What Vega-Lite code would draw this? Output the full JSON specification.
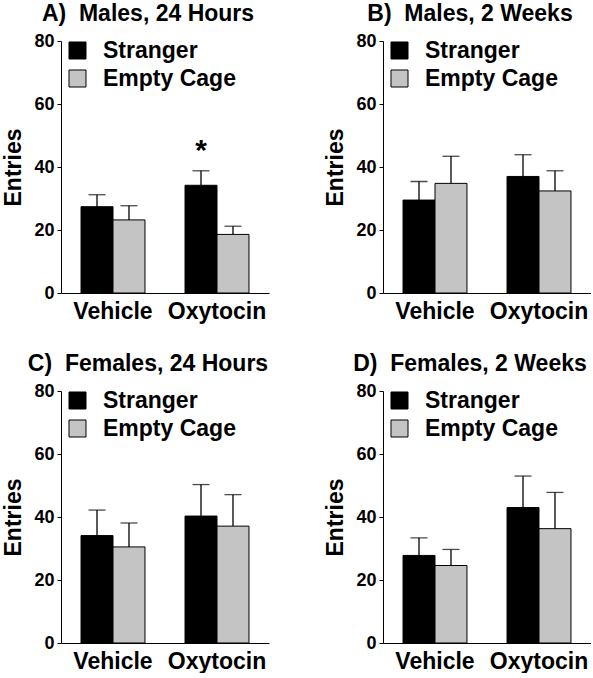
{
  "$schema": "https://vega.github.io/schema/vega-lite/v6.json",
  "padding": {"left": 2, "top": 3, "right": 0, "bottom": 0},
  "background": "white",
  "config": {
    "font": "Liberation Sans",
    "view": {"stroke": null},
    "concat": {"spacing": {"row": 30, "column": 55}},
    "axis": {"domainColor": "black", "tickColor": "black", "labelColor": "black", "titleColor": "black", "grid": false, "labelFontWeight": "bold", "titleFontWeight": "bold"}
  },
  "datasets": {
    "d": [
      {"panel": "A", "treatment": "Vehicle", "group": "Stranger", "mean": 27.4, "upper": 31.2},
      {"panel": "A", "treatment": "Vehicle", "group": "Empty Cage", "mean": 23.2, "upper": 27.7},
      {"panel": "A", "treatment": "Oxytocin", "group": "Stranger", "mean": 34.2, "upper": 38.8, "sig": "*", "sigpos": 45},
      {"panel": "A", "treatment": "Oxytocin", "group": "Empty Cage", "mean": 18.6, "upper": 21.2},
      {"panel": "B", "treatment": "Vehicle", "group": "Stranger", "mean": 29.5, "upper": 35.4},
      {"panel": "B", "treatment": "Vehicle", "group": "Empty Cage", "mean": 34.8, "upper": 43.4},
      {"panel": "B", "treatment": "Oxytocin", "group": "Stranger", "mean": 37.0, "upper": 43.9},
      {"panel": "B", "treatment": "Oxytocin", "group": "Empty Cage", "mean": 32.4, "upper": 38.8},
      {"panel": "C", "treatment": "Vehicle", "group": "Stranger", "mean": 34.1, "upper": 42.2},
      {"panel": "C", "treatment": "Vehicle", "group": "Empty Cage", "mean": 30.5, "upper": 38.1},
      {"panel": "C", "treatment": "Oxytocin", "group": "Stranger", "mean": 40.3, "upper": 50.3},
      {"panel": "C", "treatment": "Oxytocin", "group": "Empty Cage", "mean": 37.1, "upper": 47.1},
      {"panel": "D", "treatment": "Vehicle", "group": "Stranger", "mean": 27.8, "upper": 33.4},
      {"panel": "D", "treatment": "Vehicle", "group": "Empty Cage", "mean": 24.6, "upper": 29.7},
      {"panel": "D", "treatment": "Oxytocin", "group": "Stranger", "mean": 43.0, "upper": 53.0},
      {"panel": "D", "treatment": "Oxytocin", "group": "Empty Cage", "mean": 36.3, "upper": 47.8}
    ]
  },
  "columns": 2,
  "resolve": {"legend": {"color": "independent"}},
  "concat": [
    {
      "title": {"text": "A)\u00a0 Males, 24 Hours", "fontSize": 23, "fontWeight": "bold", "anchor": "middle", "frame": "group", "dx": -17, "offset": 6, "color": "black"},
      "width": 208, "height": 252,
      "data": {"name": "d"},
      "transform": [{"filter": "datum.panel == 'A'"}],
      "encoding": {
        "x": {"field": "treatment", "type": "nominal", "sort": ["Vehicle", "Oxytocin"], "scale": {"paddingInner": 0.385, "paddingOuter": 0.1925}, "axis": {"title": null, "ticks": false, "labelAngle": 0, "labelFontSize": 23, "labelPadding": 7}},
        "xOffset": {"field": "group", "type": "nominal", "sort": ["Stranger", "Empty Cage"]}
      },
      "layer": [
        {"mark": {"type": "rule", "color": "black", "strokeWidth": 1.3}, "encoding": {"y": {"field": "mean", "type": "quantitative"}, "y2": {"field": "upper"}}},
        {"mark": {"type": "tick", "color": "black", "size": 17, "thickness": 1.3}, "encoding": {"y": {"field": "upper", "type": "quantitative"}}},
        {"mark": {"type": "bar", "stroke": "black", "strokeWidth": 1}, "encoding": {
          "y": {"field": "mean", "type": "quantitative", "scale": {"domain": [0, 80]}, "axis": {"values": [0,10,20,30,40,50,60,70,80], "labelExpr": "datum.value % 20 == 0 ? datum.label : ''", "tickSize": 4, "labelFontSize": 18, "labelPadding": 3, "title": "Entries", "titleFontSize": 23, "titlePadding": 8}},
          "color": {"field": "group", "type": "nominal", "sort": ["Stranger", "Empty Cage"], "scale": {"domain": ["Stranger", "Empty Cage"], "range": ["#000000", "#c4c4c4"]}, "legend": {"title": null, "orient": "none", "legendX": 5, "legendY": -2, "symbolType": "square", "symbolSize": 290, "symbolStrokeColor": "black", "symbolStrokeWidth": 1, "labelFontSize": 23, "labelFontWeight": "bold", "labelColor": "black", "labelOffset": 14, "rowPadding": 4, "padding": 0}}
        }},
        {"transform": [{"filter": "datum.sig != null"}], "mark": {"type": "text", "fontSize": 30, "fontWeight": "bold", "baseline": "middle", "color": "black"}, "encoding": {"y": {"field": "sigpos", "type": "quantitative"}, "text": {"field": "sig"}}}
      ]
    },
    {
      "title": {"text": "B)\u00a0 Males, 2 Weeks", "fontSize": 23, "fontWeight": "bold", "anchor": "middle", "frame": "group", "dx": -17, "offset": 6, "color": "black"},
      "width": 208, "height": 252,
      "data": {"name": "d"},
      "transform": [{"filter": "datum.panel == 'B'"}],
      "encoding": {
        "x": {"field": "treatment", "type": "nominal", "sort": ["Vehicle", "Oxytocin"], "scale": {"paddingInner": 0.385, "paddingOuter": 0.1925}, "axis": {"title": null, "ticks": false, "labelAngle": 0, "labelFontSize": 23, "labelPadding": 7}},
        "xOffset": {"field": "group", "type": "nominal", "sort": ["Stranger", "Empty Cage"]}
      },
      "layer": [
        {"mark": {"type": "rule", "color": "black", "strokeWidth": 1.3}, "encoding": {"y": {"field": "mean", "type": "quantitative"}, "y2": {"field": "upper"}}},
        {"mark": {"type": "tick", "color": "black", "size": 17, "thickness": 1.3}, "encoding": {"y": {"field": "upper", "type": "quantitative"}}},
        {"mark": {"type": "bar", "stroke": "black", "strokeWidth": 1}, "encoding": {
          "y": {"field": "mean", "type": "quantitative", "scale": {"domain": [0, 80]}, "axis": {"values": [0,10,20,30,40,50,60,70,80], "labelExpr": "datum.value % 20 == 0 ? datum.label : ''", "tickSize": 4, "labelFontSize": 18, "labelPadding": 3, "title": "Entries", "titleFontSize": 23, "titlePadding": 8}},
          "color": {"field": "group", "type": "nominal", "sort": ["Stranger", "Empty Cage"], "scale": {"domain": ["Stranger", "Empty Cage"], "range": ["#000000", "#c4c4c4"]}, "legend": {"title": null, "orient": "none", "legendX": 5, "legendY": -2, "symbolType": "square", "symbolSize": 290, "symbolStrokeColor": "black", "symbolStrokeWidth": 1, "labelFontSize": 23, "labelFontWeight": "bold", "labelColor": "black", "labelOffset": 14, "rowPadding": 4, "padding": 0}}
        }}
      ]
    },
    {
      "title": {"text": "C)\u00a0 Females, 24 Hours", "fontSize": 23, "fontWeight": "bold", "anchor": "middle", "frame": "group", "dx": -17, "offset": 6, "color": "black"},
      "width": 208, "height": 252,
      "data": {"name": "d"},
      "transform": [{"filter": "datum.panel == 'C'"}],
      "encoding": {
        "x": {"field": "treatment", "type": "nominal", "sort": ["Vehicle", "Oxytocin"], "scale": {"paddingInner": 0.385, "paddingOuter": 0.1925}, "axis": {"title": null, "ticks": false, "labelAngle": 0, "labelFontSize": 23, "labelPadding": 7}},
        "xOffset": {"field": "group", "type": "nominal", "sort": ["Stranger", "Empty Cage"]}
      },
      "layer": [
        {"mark": {"type": "rule", "color": "black", "strokeWidth": 1.3}, "encoding": {"y": {"field": "mean", "type": "quantitative"}, "y2": {"field": "upper"}}},
        {"mark": {"type": "tick", "color": "black", "size": 17, "thickness": 1.3}, "encoding": {"y": {"field": "upper", "type": "quantitative"}}},
        {"mark": {"type": "bar", "stroke": "black", "strokeWidth": 1}, "encoding": {
          "y": {"field": "mean", "type": "quantitative", "scale": {"domain": [0, 80]}, "axis": {"values": [0,10,20,30,40,50,60,70,80], "labelExpr": "datum.value % 20 == 0 ? datum.label : ''", "tickSize": 4, "labelFontSize": 18, "labelPadding": 3, "title": "Entries", "titleFontSize": 23, "titlePadding": 8}},
          "color": {"field": "group", "type": "nominal", "sort": ["Stranger", "Empty Cage"], "scale": {"domain": ["Stranger", "Empty Cage"], "range": ["#000000", "#c4c4c4"]}, "legend": {"title": null, "orient": "none", "legendX": 5, "legendY": -2, "symbolType": "square", "symbolSize": 290, "symbolStrokeColor": "black", "symbolStrokeWidth": 1, "labelFontSize": 23, "labelFontWeight": "bold", "labelColor": "black", "labelOffset": 14, "rowPadding": 4, "padding": 0}}
        }}
      ]
    },
    {
      "title": {"text": "D)\u00a0 Females, 2 Weeks", "fontSize": 23, "fontWeight": "bold", "anchor": "middle", "frame": "group", "dx": -17, "offset": 6, "color": "black"},
      "width": 208, "height": 252,
      "data": {"name": "d"},
      "transform": [{"filter": "datum.panel == 'D'"}],
      "encoding": {
        "x": {"field": "treatment", "type": "nominal", "sort": ["Vehicle", "Oxytocin"], "scale": {"paddingInner": 0.385, "paddingOuter": 0.1925}, "axis": {"title": null, "ticks": false, "labelAngle": 0, "labelFontSize": 23, "labelPadding": 7}},
        "xOffset": {"field": "group", "type": "nominal", "sort": ["Stranger", "Empty Cage"]}
      },
      "layer": [
        {"mark": {"type": "rule", "color": "black", "strokeWidth": 1.3}, "encoding": {"y": {"field": "mean", "type": "quantitative"}, "y2": {"field": "upper"}}},
        {"mark": {"type": "tick", "color": "black", "size": 17, "thickness": 1.3}, "encoding": {"y": {"field": "upper", "type": "quantitative"}}},
        {"mark": {"type": "bar", "stroke": "black", "strokeWidth": 1}, "encoding": {
          "y": {"field": "mean", "type": "quantitative", "scale": {"domain": [0, 80]}, "axis": {"values": [0,10,20,30,40,50,60,70,80], "labelExpr": "datum.value % 20 == 0 ? datum.label : ''", "tickSize": 4, "labelFontSize": 18, "labelPadding": 3, "title": "Entries", "titleFontSize": 23, "titlePadding": 8}},
          "color": {"field": "group", "type": "nominal", "sort": ["Stranger", "Empty Cage"], "scale": {"domain": ["Stranger", "Empty Cage"], "range": ["#000000", "#c4c4c4"]}, "legend": {"title": null, "orient": "none", "legendX": 5, "legendY": -2, "symbolType": "square", "symbolSize": 290, "symbolStrokeColor": "black", "symbolStrokeWidth": 1, "labelFontSize": 23, "labelFontWeight": "bold", "labelColor": "black", "labelOffset": 14, "rowPadding": 4, "padding": 0}}
        }}
      ]
    }
  ]
}
